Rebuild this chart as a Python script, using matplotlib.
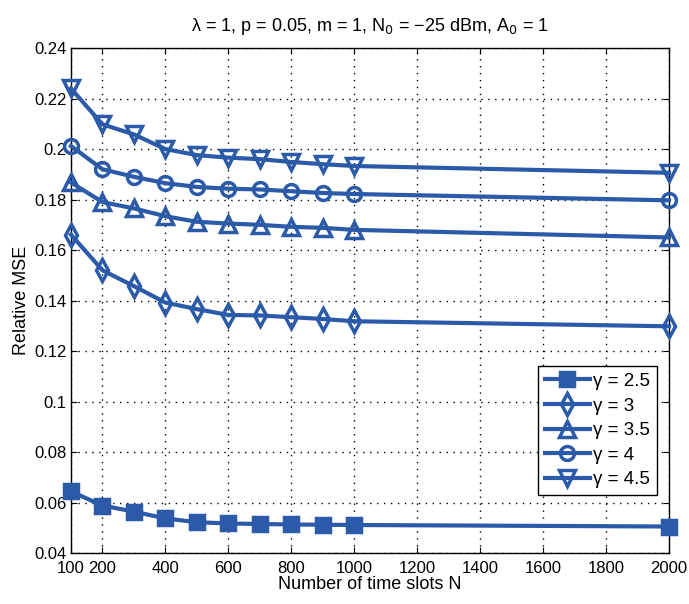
import matplotlib.pyplot as plt

plt.rcParams["font.family"] = ["Liberation Sans", "DejaVu Sans"]

# data
N = [100, 200, 300, 400, 500, 600, 700, 800, 900, 1000, 2000]
mse_g25 = [0.0644, 0.0588, 0.0564, 0.0537, 0.0522, 0.0517, 0.0515, 0.0513, 0.0512, 0.0511, 0.0505]
mse_g3 = [0.1661, 0.1520, 0.1457, 0.1392, 0.1366, 0.1343, 0.1341, 0.1334, 0.1327, 0.1318, 0.1298]
mse_g35 = [0.1868, 0.1790, 0.1765, 0.1734, 0.1712, 0.1705, 0.1700, 0.1692, 0.1688, 0.1680, 0.1650]
mse_g4 = [0.2012, 0.1920, 0.1890, 0.1865, 0.1850, 0.1843, 0.1840, 0.1833, 0.1826, 0.1822, 0.1797]
mse_g45 = [0.2240, 0.2098, 0.2058, 0.2000, 0.1976, 0.1966, 0.1960, 0.1949, 0.1940, 0.1933, 0.1906]
labels = ["γ = 2.5", "γ = 3", "γ = 3.5", "γ = 4", "γ = 4.5"]
xticks = [100, 200, 400, 600, 800, 1000, 1200, 1400, 1600, 1800, 2000]

blue = "#2a5aa8"
series = [mse_g25, mse_g3, mse_g35, mse_g4, mse_g45]
markers = ["s", "d", "^", "o", "v"]
msizes = [10, 11, 12, 10, 12]

fig = plt.figure(figsize=(6.89, 6.04), dpi=100)
ax = fig.add_axes([0.103, 0.0844, 0.868, 0.836])

for y, m, ms, lab in zip(series, markers, msizes, labels):
    ax.plot(N, y, color=blue, linewidth=3, marker=m, markersize=ms,
            markerfacecolor="none" if m != "s" else blue,
            markeredgecolor=blue, markeredgewidth=2.5, label=lab,
            clip_on=False, zorder=3)

ax.set_xlim(100, 2000)
ax.set_ylim(0.04, 0.24)
ax.set_xticks(xticks)
ax.set_yticks([0.04, 0.06, 0.08, 0.1, 0.12, 0.14, 0.16, 0.18, 0.2, 0.22, 0.24])
ax.set_yticklabels(["0.04", "0.06", "0.08", "0.1", "0.12", "0.14", "0.16",
                    "0.18", "0.2", "0.22", "0.24"])
ax.tick_params(direction="in", labelsize=12, length=4, top=True, right=True)
ax.tick_params(axis="x", pad=6)
ax.tick_params(axis="y", pad=3)
ax.grid(True, color="black", linestyle=(0, (1, 4)), linewidth=1)
for s in ax.spines.values():
    s.set_linewidth(1)

ax.set_xlabel("Number of time slots N", fontsize=13, labelpad=0)
ax.set_ylabel("Relative MSE", fontsize=13, labelpad=3)
ax.set_title(r"λ = 1, p = 0.05, m = 1, N$_0$ = −25 dBm, A$_0$ = 1", fontsize=13, pad=12)

leg = ax.legend(loc="lower right", bbox_to_anchor=(0.98, 0.115), fontsize=13.5,
                fancybox=False, edgecolor="black", framealpha=1,
                handlelength=2.4, handletextpad=0.2, borderpad=0.35, labelspacing=0.4,
                borderaxespad=0)
leg.get_frame().set_linewidth(1)

plt.savefig("out.png", dpi=100)
